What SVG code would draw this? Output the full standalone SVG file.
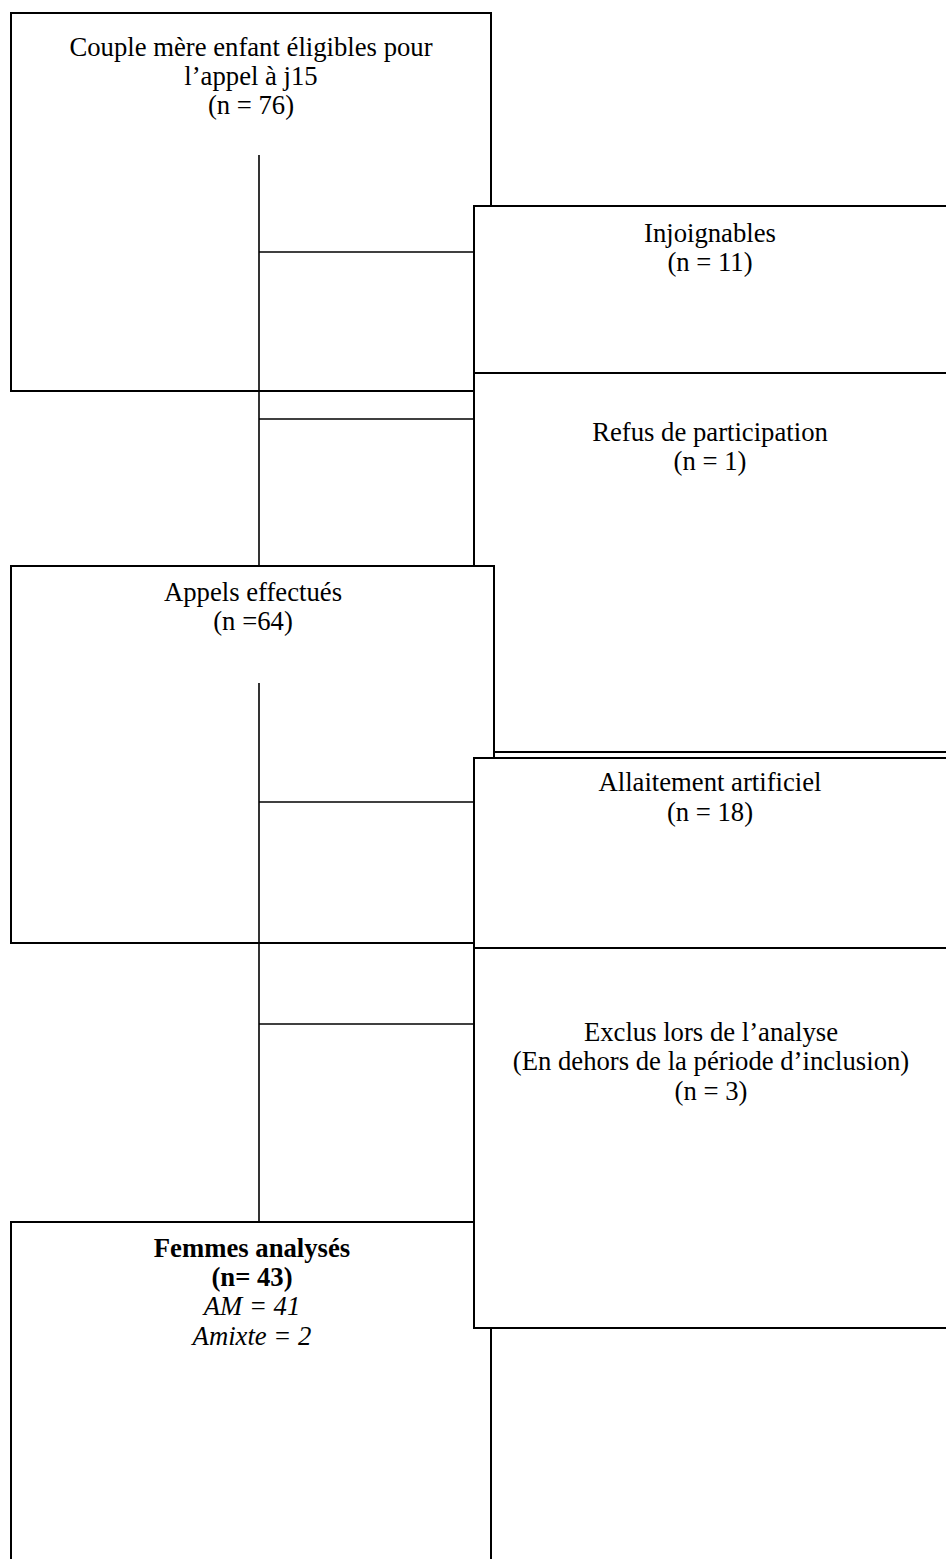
<svg xmlns="http://www.w3.org/2000/svg" width="946" height="1559" viewBox="0 0 946 1559">
<style>
.box{fill:#fff;stroke:#000;stroke-width:2}
.t{font-family:"Liberation Serif","Times New Roman",serif;font-size:26.7px;fill:#000;text-anchor:middle}
.b{font-weight:bold}
.i{font-style:italic}
.c{stroke:#000;stroke-width:1.6;fill:none}
</style>
<rect width="946" height="1559" fill="#fff"/>
<g id="n1">
<rect class="box" x="11" y="13" width="480" height="378"/>
<text class="t" x="251" y="56">Couple mère enfant éligibles pour</text>
<text class="t" x="251" y="85">l’appel à j15</text>
<text class="t" x="251" y="114">(n = 76)</text>
</g>
<g id="n2">
<rect class="box" x="474" y="206" width="476" height="167"/>
<text class="t" x="710" y="242">Injoignables</text>
<text class="t" x="710" y="271">(n = 11)</text>
</g>
<g id="n3">
<rect class="box" x="474" y="373" width="476" height="379"/>
<text class="t" x="710" y="441">Refus de participation</text>
<text class="t" x="710" y="470">(n = 1)</text>
</g>
<g id="n4">
<rect class="box" x="11" y="566" width="483" height="377"/>
<text class="t" x="253" y="601">Appels effectués</text>
<text class="t" x="253" y="630">(n =64)</text>
</g>
<g id="n5">
<rect class="box" x="474" y="758" width="476" height="190"/>
<text class="t" x="710" y="791">Allaitement artificiel</text>
<text class="t" x="710" y="821">(n = 18)</text>
</g>
<g id="n7">
<rect class="box" x="11" y="1222" width="480" height="350"/>
<text class="t b" x="252" y="1257">Femmes analysés</text>
<text class="t b" x="252" y="1286">(n= 43)</text>
<text class="t i" x="252" y="1315">AM = 41</text>
<text class="t i" x="252" y="1345">Amixte = 2</text>
</g>
<g id="n6">
<rect class="box" x="474" y="948" width="476" height="380"/>
<text class="t" x="711" y="1041">Exclus lors de l’analyse</text>
<text class="t" x="711" y="1070">(En dehors de la période d’inclusion)</text>
<text class="t" x="711" y="1100">(n = 3)</text>
</g>
<g id="connectors">
<line class="c" x1="259" y1="155" x2="259" y2="566"/>
<line class="c" x1="259" y1="252" x2="474" y2="252"/>
<line class="c" x1="259" y1="419" x2="474" y2="419"/>
<line class="c" x1="259" y1="683" x2="259" y2="1222"/>
<line class="c" x1="259" y1="802" x2="474" y2="802"/>
<line class="c" x1="259" y1="1024" x2="474" y2="1024"/>
</g>
</svg>
